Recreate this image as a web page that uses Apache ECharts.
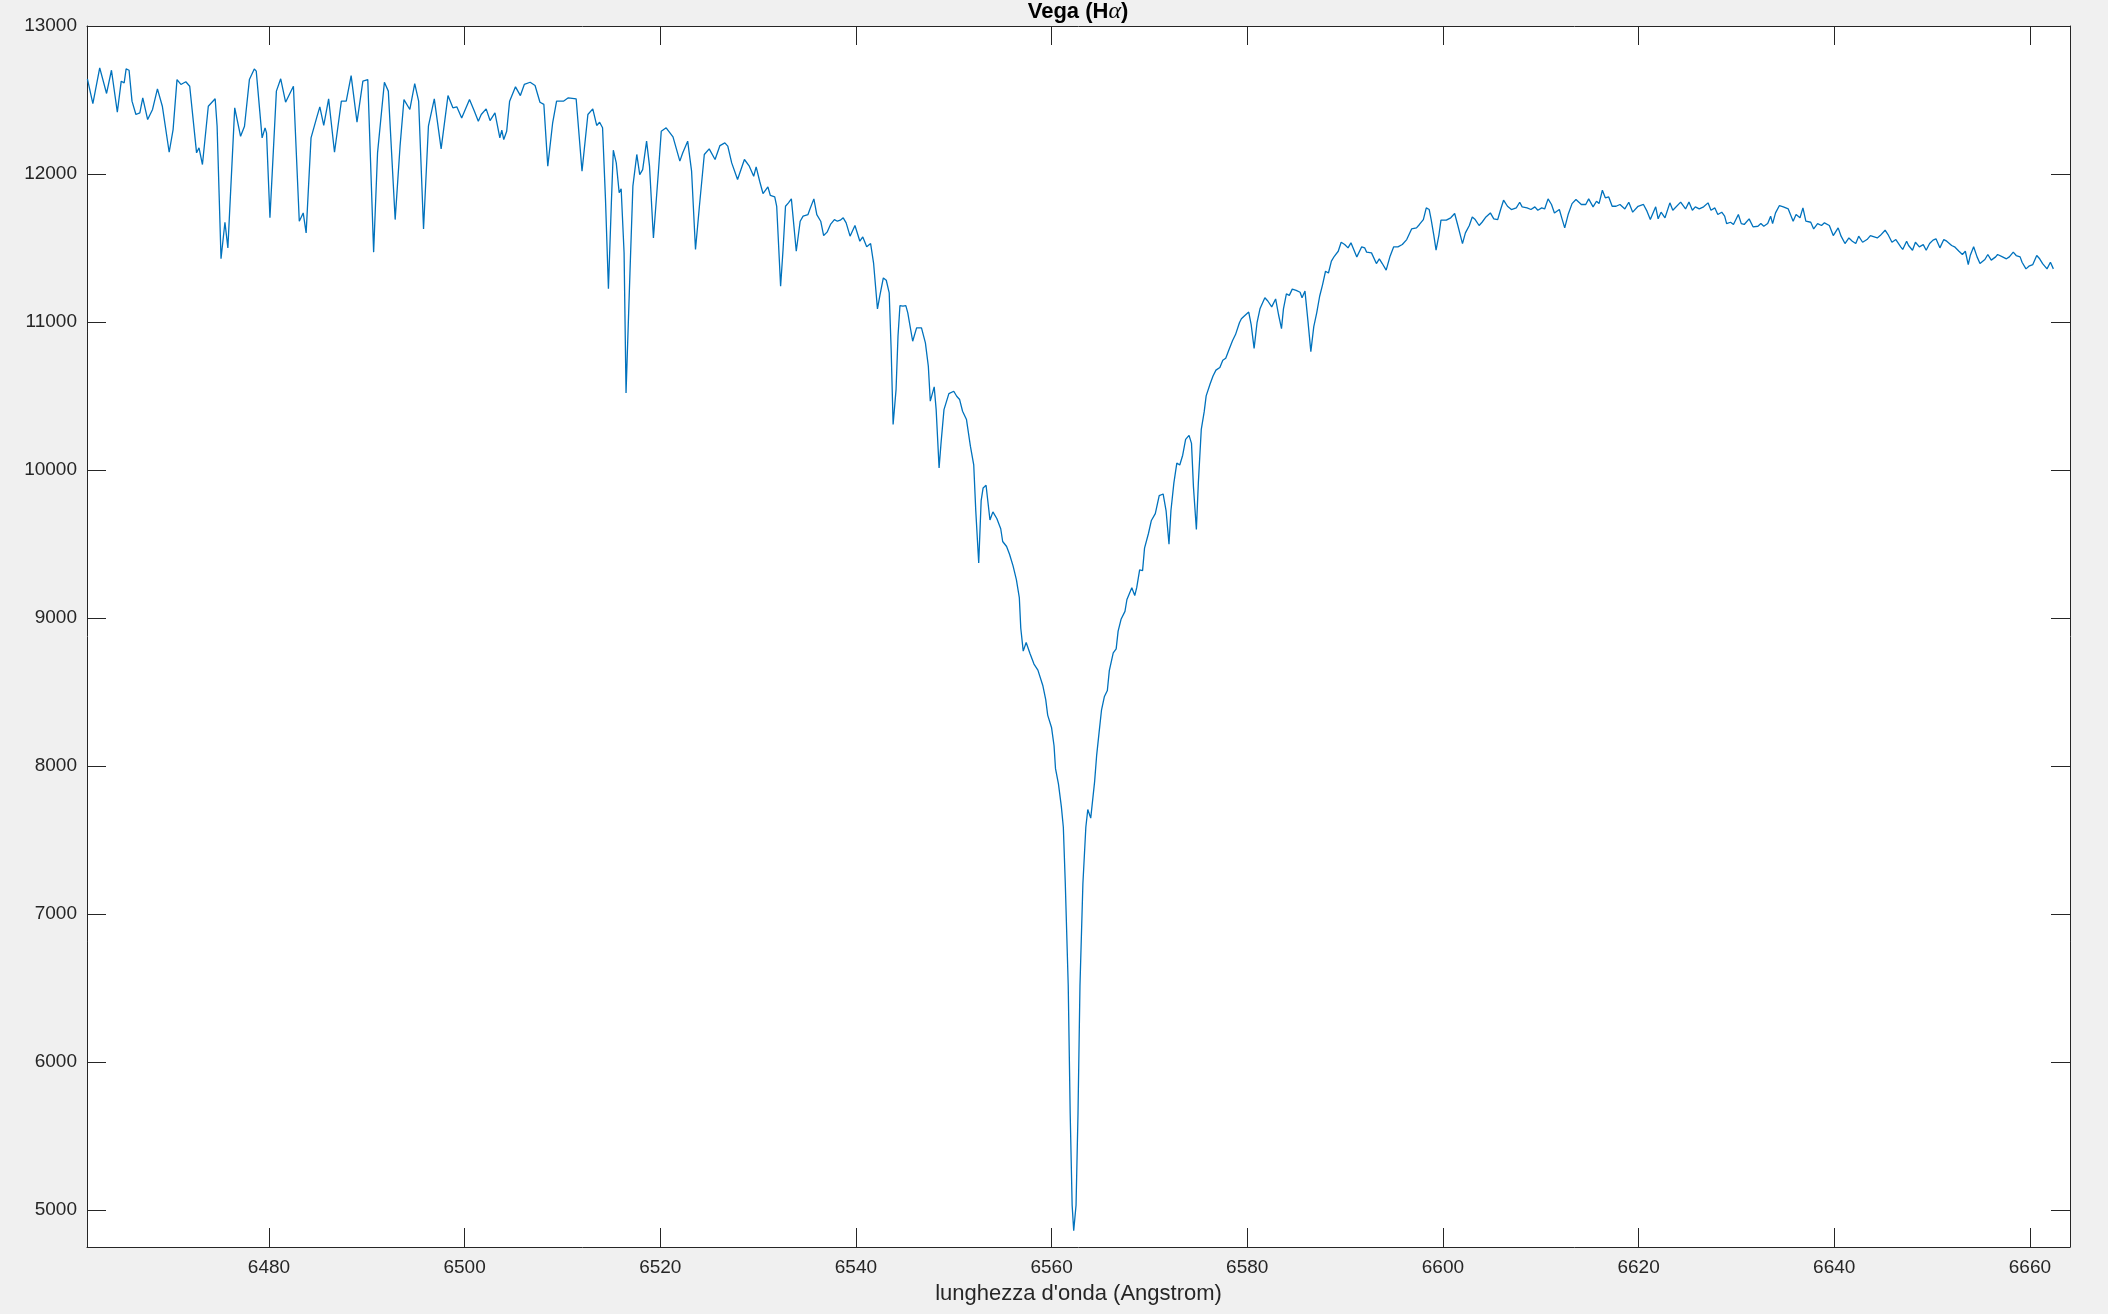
<!DOCTYPE html>
<html>
<head>
<meta charset="utf-8">
<script src="https://cdn.jsdelivr.net/npm/echarts@6/dist/echarts.min.js"></script>
<style>
html,body{margin:0;padding:0;background:#f0f0f0;}
#chart{width:2108px;height:1314px;}
</style>
</head>
<body>
<div id="chart"></div>
<script>
const titleText = 'Vega (H';
const titleGreek = 'α';
const xAxisTitle = "lunghezza d'onda (Angstrom)";
const xTicks = [6480, 6500, 6520, 6540, 6560, 6580, 6600, 6620, 6640, 6660];
const yTicks = [5000, 6000, 7000, 8000, 9000, 10000, 11000, 12000, 13000];
const xRange = [6461.4, 6664.1];
const yRange = [4750, 13000];

const wavelength = [
6461.44,6462.0,6462.7,6462.9,6463.4,6463.9,6464.5,6464.9,6465.2,6465.4,
6465.7,6466.0,6466.4,6466.8,6467.1,6467.6,6468.1,6468.6,6469.1,6469.8,
6470.2,6470.6,6471.0,6471.5,6471.9,6472.6,6472.85,6473.2,6473.8,6474.5,
6474.7,6475.1,6475.5,6475.8,6476.5,6477.1,6477.5,6478.0,6478.5,6478.7,
6479.3,6479.6,6479.75,6480.1,6480.76,6481.2,6481.7,6482.5,6483.1,6483.5,
6483.8,6484.3,6484.9,6485.2,6485.6,6486.1,6486.7,6487.4,6487.9,6488.4,
6489.0,6489.6,6490.1,6490.7,6491.1,6491.8,6492.2,6492.9,6493.4,6493.8,
6494.4,6494.9,6495.3,6495.8,6496.3,6496.9,6497.6,6498.3,6498.8,6499.2,
6499.7,6500.5,6501.0,6501.4,6501.7,6502.2,6502.6,6503.1,6503.6,6503.8,
6504.0,6504.3,6504.6,6505.2,6505.7,6506.1,6506.7,6507.2,6507.7,6508.1,
6508.5,6509.0,6509.4,6510.1,6510.6,6511.4,6512.0,6512.6,6513.1,6513.5,
6513.8,6514.1,6514.4,6514.7,6515.0,6515.2,6515.5,6515.8,6516.0,6516.3,
6516.5,6516.9,6517.2,6517.6,6517.9,6518.2,6518.6,6518.9,6519.3,6519.8,
6520.1,6520.6,6521.3,6522.0,6522.3,6522.8,6523.2,6523.6,6524.0,6524.5,
6525.0,6525.6,6526.1,6526.6,6526.9,6527.3,6527.9,6528.6,6529.1,6529.55,
6529.8,6530.16,6530.5,6530.8,6531.0,6531.25,6531.7,6531.9,6532.3,6532.55,
6532.8,6533.1,6533.4,6533.9,6534.3,6534.6,6535.1,6535.3,6535.7,6536.0,
6536.4,6536.7,6537.05,6537.4,6537.8,6538.1,6538.4,6538.7,6539.0,6539.4,
6539.9,6540.4,6540.7,6541.1,6541.5,6541.8,6542.2,6542.45,6542.8,6543.1,
6543.4,6543.6,6543.8,6544.1,6544.3,6544.5,6544.8,6545.1,6545.3,6545.8,
6546.2,6546.7,6547.1,6547.4,6547.6,6548.0,6548.2,6548.5,6548.7,6549.0,
6549.5,6550.0,6550.3,6550.6,6550.9,6551.3,6551.7,6552.04,6552.25,6552.55,
6552.8,6553.0,6553.3,6553.7,6554.0,6554.4,6554.8,6555.0,6555.4,6555.7,
6556.06,6556.4,6556.7,6556.85,6557.1,6557.4,6557.8,6558.2,6558.6,6559.1,
6559.4,6559.6,6560.0,6560.25,6560.4,6560.7,6561.0,6561.2,6561.4,6561.7,
6561.9,6562.1,6562.26,6562.5,6562.7,6562.9,6563.2,6563.5,6563.7,6564.0,
6564.2,6564.4,6564.6,6564.85,6565.1,6565.4,6565.7,6565.9,6566.3,6566.6,
6566.8,6567.1,6567.5,6567.7,6568.2,6568.5,6568.7,6569.0,6569.3,6569.5,
6569.9,6570.2,6570.6,6571.0,6571.4,6571.7,6572.0,6572.2,6572.5,6572.8,
6573.1,6573.4,6573.7,6574.05,6574.3,6574.5,6574.8,6575.0,6575.3,6575.6,
6575.8,6576.2,6576.5,6576.8,6577.2,6577.5,6577.8,6578.1,6578.5,6578.8,
6579.2,6579.4,6579.7,6580.15,6580.4,6580.7,6581.0,6581.3,6581.8,6582.1,
6582.5,6582.9,6583.2,6583.5,6583.7,6584.0,6584.3,6584.6,6585.0,6585.4,
6585.6,6585.9,6586.2,6586.5,6586.8,6587.1,6587.4,6587.7,6588.0,6588.3,
6588.6,6588.9,6589.3,6589.6,6589.96,6590.3,6590.6,6591.2,6591.7,6592.0,
6592.2,6592.7,6593.2,6593.5,6593.8,6594.2,6594.6,6594.97,6595.4,6595.85,
6596.3,6596.8,6597.3,6597.6,6598.0,6598.3,6598.6,6598.8,6599.06,6599.3,
6599.6,6599.8,6600.35,6600.8,6601.2,6601.5,6602.0,6602.3,6602.7,6603.0,
6603.3,6603.7,6604.0,6604.4,6604.85,6605.2,6605.6,6605.9,6606.2,6606.6,
6607.0,6607.5,6607.85,6608.1,6608.6,6609.0,6609.4,6609.7,6610.1,6610.4,
6610.75,6611.1,6611.4,6611.9,6612.2,6612.45,6612.8,6613.2,6613.6,6614.15,
6614.6,6614.9,6615.35,6615.7,6615.96,6616.3,6616.6,6616.95,6617.3,6617.7,
6618.1,6618.6,6619.0,6619.4,6619.95,6620.5,6620.86,6621.2,6621.75,6622.0,
6622.3,6622.7,6623.2,6623.5,6624.3,6624.8,6625.15,6625.5,6625.8,6626.2,
6626.65,6627.1,6627.4,6627.8,6628.1,6628.5,6628.8,6629.0,6629.4,6629.7,
6630.2,6630.5,6630.8,6631.3,6631.7,6632.2,6632.5,6632.8,6633.2,6633.5,
6633.7,6634.0,6634.4,6634.8,6635.3,6635.8,6636.1,6636.5,6636.8,6637.1,
6637.6,6637.9,6638.3,6638.7,6639.0,6639.5,6639.9,6640.4,6640.7,6641.1,
6641.5,6641.85,6642.2,6642.5,6642.9,6643.35,6643.7,6644.4,6644.7,6645.2,
6645.5,6645.9,6646.3,6646.8,6647.0,6647.4,6647.6,6648.0,6648.3,6648.7,
6649.1,6649.4,6649.75,6650.1,6650.4,6650.8,6651.2,6651.5,6652.0,6652.3,
6652.75,6653.1,6653.4,6653.7,6653.9,6654.25,6654.6,6654.9,6655.4,6655.7,
6656.05,6656.5,6656.7,6657.2,6657.6,6657.9,6658.3,6658.6,6659.0,6659.2,
6659.6,6659.9,6660.3,6660.7,6661.0,6661.3,6661.75,6662.1,6662.4
];

const flux = [
12643,12476,12717,12717,12544,12701,12418,12627,12616,12710,
12701,12492,12402,12413,12515,12368,12436,12575,12458,12147,
12300,12638,12605,12623,12593,12143,12177,12064,12458,12508,
12323,11427,11674,11501,12447,12255,12323,12638,12710,12695,
12244,12312,12278,11704,12560,12643,12485,12593,11681,11737,
11602,12244,12386,12454,12328,12508,12147,12492,12492,12665,
12350,12627,12638,11472,12143,12620,12560,11692,12188,12503,
12436,12611,12492,11629,12323,12508,12170,12530,12447,12454,
12379,12503,12424,12357,12402,12440,12361,12413,12244,12296,
12233,12289,12492,12589,12530,12605,12620,12598,12485,12470,
12053,12346,12492,12492,12515,12508,12019,12402,12440,12328,
12350,12312,11828,11224,11805,12161,12075,11873,11900,11467,
10521,11332,11918,12132,11996,12030,12222,12053,11568,12008,
12289,12312,12251,12087,12143,12222,12019,11490,11782,12132,
12170,12098,12192,12210,12188,12075,11963,12098,12053,11985,
12048,11951,11868,11895,11913,11855,11846,11782,11242,11490,
11782,11805,11832,11478,11681,11715,11726,11764,11832,11726,
11681,11584,11607,11659,11692,11681,11688,11704,11670,11580,
11652,11546,11575,11508,11530,11400,11089,11180,11298,11282,
11197,10814,10307,10543,10904,11111,11107,11111,11062,10870,
10960,10960,10859,10701,10465,10562,10408,10014,10183,10408,
10516,10532,10498,10476,10397,10341,10161,10035,9724,9372,
9793,9879,9897,9662,9717,9672,9603,9517,9483,9431,
9352,9259,9138,8931,8776,8834,8758,8689,8648,8544,
8448,8344,8258,8137,7982,7879,7724,7586,7206,6516,
5654,5033,4860,5033,5654,6516,7206,7586,7706,7648,
7655,7896,8068,8224,8377,8470,8510,8644,8764,8791,
8911,8991,9045,9125,9205,9152,9205,9325,9320,9472,
9571,9659,9705,9827,9838,9726,9499,9726,9913,10047,
10034,10100,10207,10234,10180,9886,9598,9913,10274,10394,
10501,10581,10635,10675,10693,10741,10755,10808,10875,10915,
10995,11022,11041,11067,10982,10822,10995,11089,11164,11142,
11102,11156,11049,10955,11089,11190,11180,11222,11214,11201,
11164,11209,11009,10800,10969,11062,11174,11253,11343,11331,
11411,11444,11478,11539,11524,11501,11535,11440,11508,11501,
11472,11467,11395,11427,11395,11350,11445,11508,11508,11524,
11557,11629,11636,11659,11692,11771,11760,11692,11591,11485,
11591,11688,11688,11704,11733,11659,11530,11602,11652,11710,
11692,11652,11674,11710,11737,11697,11692,11760,11823,11782,
11760,11771,11809,11778,11771,11760,11778,11755,11771,11764,
11832,11794,11737,11760,11692,11636,11726,11800,11828,11794,
11794,11832,11778,11816,11800,11890,11839,11845,11782,11782,
11794,11764,11809,11742,11782,11794,11749,11692,11778,11697,
11742,11704,11805,11755,11810,11764,11810,11755,11778,11764,
11778,11805,11755,11771,11726,11742,11715,11665,11674,11659,
11726,11665,11659,11697,11643,11647,11665,11647,11665,11715,
11665,11737,11787,11778,11764,11681,11726,11704,11771,11681,
11674,11629,11665,11652,11670,11652,11584,11636,11580,11530,
11568,11546,11530,11580,11539,11557,11584,11568,11584,11620,
11591,11539,11557,11508,11490,11546,11517,11485,11539,11508,
11523,11485,11530,11553,11562,11501,11557,11546,11517,11508,
11478,11456,11478,11388,11449,11508,11440,11395,11422,11456,
11418,11440,11456,11440,11427,11440,11472,11449,11440,11404,
11359,11377,11388,11449,11427,11395,11359,11404,11359
];

const seriesData = wavelength.map((w, i) => [w, flux[i]]);

const textColor = '#262626';
const fontFam = 'Liberation Sans, Arial, Helvetica, sans-serif';
const plainNumber = v => String(Math.round(v));

const chart = echarts.init(document.getElementById('chart'), null, {renderer: 'canvas'});

function xAxisDef(pos, showLabels) {
  return {
    type: 'value', position: pos, min: xRange[0], max: xRange[1],
    axisLine: {show: true, onZero: false, lineStyle: {color: textColor, width: 1}},
    axisTick: {show: true, inside: true, length: 19, customValues: xTicks, lineStyle: {color: textColor, width: 1}},
    axisLabel: {show: showLabels, customValues: xTicks, formatter: plainNumber, color: textColor, fontSize: 19, fontFamily: fontFam, margin: 11},
    splitLine: {show: false},
    name: showLabels ? xAxisTitle : '',
    nameLocation: 'middle', nameGap: 36,
    nameTextStyle: {color: textColor, fontSize: 22, fontFamily: fontFam}
  };
}
function yAxisDef(pos, showLabels) {
  return {
    type: 'value', position: pos, min: yRange[0], max: yRange[1],
    axisLine: {show: true, onZero: false, lineStyle: {color: textColor, width: 1}},
    axisTick: {show: true, inside: true, length: 19, customValues: yTicks, lineStyle: {color: textColor, width: 1}},
    axisLabel: {show: showLabels, customValues: yTicks, formatter: plainNumber, color: textColor, fontSize: 19, fontFamily: fontFam, margin: 10},
    splitLine: {show: false}
  };
}

chart.setOption({
  animation: false,
  backgroundColor: '#f0f0f0',
  title: {
    text: '{b|' + titleText + '}{a|' + titleGreek + '}{b|)}',
    left: 1078, top: 0, textAlign: 'center', padding: 0,
    textStyle: {
      rich: {
        b: {fontFamily: fontFam, fontWeight: 'bold', fontSize: 22, color: '#000000'},
        a: {fontFamily: 'Liberation Serif, DejaVu Serif, serif', fontStyle: 'italic', fontWeight: 'normal', fontSize: 24, color: '#000000'}
      }
    }
  },
  grid: {left: 87, right: 38, top: 26, bottom: 67, containLabel: false, show: true, backgroundColor: '#ffffff', borderWidth: 0},
  xAxis: [xAxisDef('bottom', true), xAxisDef('top', false)],
  yAxis: [yAxisDef('left', true), yAxisDef('right', false)],
  series: [{
    type: 'line', xAxisIndex: 0, yAxisIndex: 0,
    data: seriesData, showSymbol: false, symbol: 'none', smooth: false,
    lineStyle: {color: '#0072BD', width: 1.3},
    itemStyle: {color: '#0072BD'}
  }]
});
</script>
</body>
</html>
